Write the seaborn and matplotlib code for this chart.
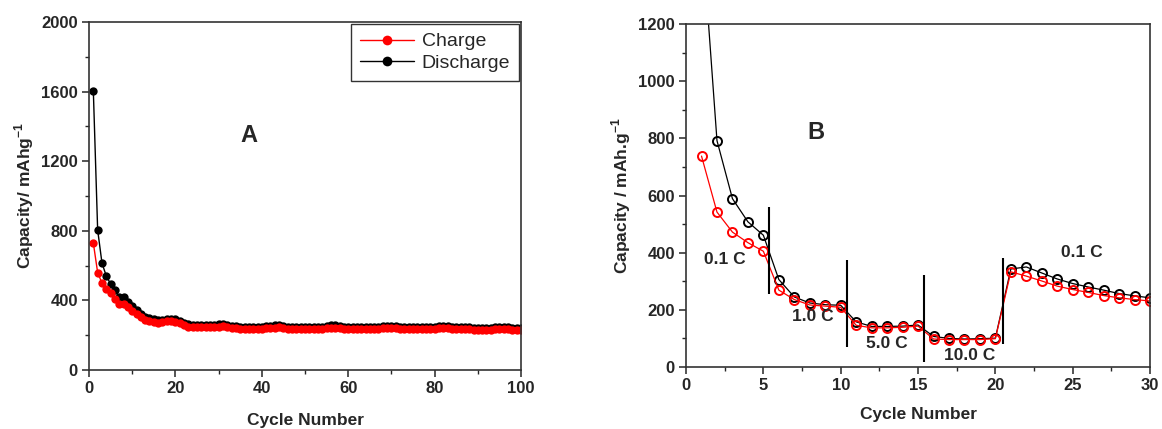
import matplotlib
matplotlib.use("Agg")
import matplotlib.pyplot as plt
import seaborn as sns
import pandas as pd
from matplotlib.ticker import MultipleLocator
from matplotlib.lines import Line2D

# ---------------- Panel A data ----------------
cycles_a = list(range(1, 101))
discharge_a = [1605, 805, 615, 540, 495, 460, 418, 418, 392, 370,
               345, 322, 305, 298, 292, 285, 288, 296, 296, 292,
               284, 270, 262, 260, 260, 259, 258, 258, 259, 262,
               263, 260, 255, 252, 250, 250, 250, 249, 249, 250,
               251, 253, 256, 257, 254, 250, 248, 247, 247, 247,
               246, 246, 246, 249, 253, 256, 256, 253, 250, 248,
               247, 246, 245, 245, 245, 246, 248, 252, 254, 254,
               252, 250, 249, 248, 247, 246, 245, 245, 246, 248,
               251, 252, 251, 249, 247, 246, 245, 245, 244, 244,
               243, 243, 244, 246, 248, 247, 245, 244, 243, 243]
charge_a = [730, 560, 500, 465, 440, 410, 380, 382, 362, 342,
            322, 302, 288, 282, 277, 272, 275, 282, 282, 278,
            270, 256, 250, 248, 248, 247, 246, 246, 247, 250,
            251, 248, 243, 240, 238, 238, 238, 237, 237, 238,
            239, 241, 244, 245, 242, 238, 236, 235, 235, 235,
            234, 234, 234, 237, 241, 244, 244, 241, 238, 236,
            235, 234, 233, 233, 233, 234, 236, 240, 242, 242,
            240, 238, 237, 236, 235, 234, 233, 233, 234, 236,
            239, 240, 239, 237, 235, 234, 233, 233, 232, 232,
            231, 231, 232, 234, 236, 235, 233, 232, 231, 231]

# ---------------- Panel B data ----------------
cycles_b = list(range(1, 31))
discharge_b = [1540, 792, 589, 508, 461, 306, 245, 224, 218, 216,
               158, 142, 142, 143, 147, 107, 100, 98, 99, 101,
               343, 350, 329, 308, 292, 280, 269, 257, 249, 242]
charge_b = [738, 542, 472, 435, 405, 269, 236, 217, 213, 209,
            146, 137, 137, 139, 143, 98, 96, 96, 96, 99,
            333, 318, 301, 283, 271, 261, 250, 242, 236, 231]
rate_labels = ["0.1 C", "1.0 C", "5.0 C", "10.0 C", "0.1 C"]
rate_label_x = [2.5, 8.2, 13.0, 18.35, 25.6]
rate_label_y = [376, 178, 84, 40, 400]
divider_x = [5.37, 10.43, 15.41, 20.49]
divider_lo = [257, 70, 17, 79]
divider_hi = [561, 374, 321, 383]

sns.set_theme(style="ticks")
plt.rcParams["font.family"] = ["Liberation Sans", "DejaVu Sans"]
plt.rcParams["axes.linewidth"] = 1.2
plt.rcParams["mathtext.fontset"] = "custom"
plt.rcParams["mathtext.bf"] = "Liberation Sans:bold"
plt.rcParams["mathtext.rm"] = "Liberation Sans"

fig = plt.figure(figsize=(11.62, 4.29), dpi=100)
axA = fig.add_axes([0.0766, 0.1375, 0.4484 - 0.0766, 0.9487 - 0.1375])
axB = fig.add_axes([0.5904, 0.1445, 0.9897 - 0.5904, 0.944 - 0.1445])

dfA = pd.DataFrame({"cycle": cycles_a * 2,
                    "cap": charge_a + discharge_a,
                    "kind": ["Charge"] * 100 + ["Discharge"] * 100})
sns.lineplot(data=dfA, x="cycle", y="cap", hue="kind",
             palette={"Charge": "#ff0000", "Discharge": "black"},
             hue_order=["Discharge", "Charge"],
             marker="o", markersize=6, markeredgewidth=0, linewidth=1,
             sort=False, ax=axA, legend=False)

axA.set_xlim(0, 100)
axA.set_ylim(0, 2000)
axA.xaxis.set_major_locator(MultipleLocator(20))
axA.xaxis.set_minor_locator(MultipleLocator(10))
axA.yaxis.set_major_locator(MultipleLocator(400))
axA.yaxis.set_minor_locator(MultipleLocator(200))
axA.set_xlabel("Cycle Number", fontsize=12.5, fontweight="bold", labelpad=12)
axA.set_ylabel("Capacity/ mAhg$^{\\mathbf{-1}}$", fontsize=12.5, fontweight="bold")
axA.text(37, 1350, "A", fontsize=17, fontweight="bold", ha="center", va="center")

handles = [Line2D([], [], color="#ff0000", marker="o", markersize=7, markeredgewidth=0, linewidth=1),
           Line2D([], [], color="black", marker="o", markersize=7, markeredgewidth=0, linewidth=1)]
leg = axA.legend(handles, ["Charge", "Discharge"], loc="upper right", fontsize=14,
                 frameon=True, fancybox=False, borderaxespad=0.1, handlelength=2.8,
                 labelspacing=0.22, borderpad=0.45, handletextpad=0.4)
leg.get_frame().set_edgecolor("black")
leg.get_frame().set_linewidth(1.0)

dfB = pd.DataFrame({"cycle": cycles_b * 2,
                    "cap": discharge_b + charge_b,
                    "kind": ["Discharge"] * 30 + ["Charge"] * 30})
sns.lineplot(data=dfB, x="cycle", y="cap", hue="kind",
             palette={"Charge": "#ff0000", "Discharge": "black"},
             hue_order=["Discharge", "Charge"],
             marker="o", markersize=6.5, markerfacecolor="white",
             markeredgewidth=1.4, linewidth=0.9,
             sort=False, ax=axB, legend=False)
for line in axB.get_lines():
    line.set_markerfacecolor("none")
    line.set_markeredgecolor(line.get_color())

axB.vlines(divider_x, divider_lo, divider_hi, colors="black", linewidth=1.5)
for lab, x, y in zip(rate_labels, rate_label_x, rate_label_y):
    axB.text(x, y, lab, fontsize=12.5, fontweight="bold", ha="center", va="center")
axB.text(8.4, 820, "B", fontsize=17, fontweight="bold", ha="center", va="center")

axB.set_xlim(0, 30)
axB.set_ylim(0, 1200)
axB.xaxis.set_major_locator(MultipleLocator(5))
axB.xaxis.set_minor_locator(MultipleLocator(2.5))
axB.yaxis.set_major_locator(MultipleLocator(200))
axB.yaxis.set_minor_locator(MultipleLocator(100))
axB.set_xlabel("Cycle Number", fontsize=12.5, fontweight="bold", labelpad=10)
axB.set_ylabel("Capacity / mAh.g$^{\\mathbf{-1}}$", fontsize=12.5, fontweight="bold")

for ax in (axA, axB):
    for s in ax.spines.values():
        s.set_visible(True)
        s.set_color("#333333")
        s.set_linewidth(1.2)
    ax.tick_params(which="major", direction="out", length=5, width=1.1,
                   labelsize=12, top=False, right=False, pad=3)
    ax.tick_params(which="minor", direction="out", length=3, width=1.0,
                   top=False, right=False)
    for t in ax.get_xticklabels() + ax.get_yticklabels():
        t.set_fontweight("bold")

fig.savefig("out.png", dpi=100)
